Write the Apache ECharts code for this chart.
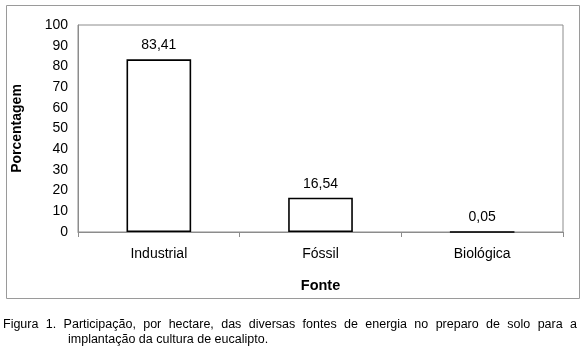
<!DOCTYPE html>
<html><head><meta charset="utf-8">
<script src="https://cdn.jsdelivr.net/npm/echarts@6/dist/echarts.min.js"></script>
<style>html,body{margin:0;padding:0;background:#fff}#c{width:580px;height:347px}</style>
</head><body><div id="c"></div>
<script>
const categories = ['Industrial', 'Fóssil', 'Biológica'];
const values = [83.41, 16.54, 0.05];
const yTicks = [0, 10, 20, 30, 40, 50, 60, 70, 80, 90, 100];
const yAxisName = 'Porcentagem';
const xAxisName = 'Fonte';
const caption1 = 'Figura 1. Participação, por hectare, das diversas fontes de energia no preparo de solo para a';
const caption2 = 'implantação da cultura de eucalipto.';

const font = 'Liberation Sans, Arial, sans-serif';
const capSize = 12.5;

// justified first caption line (words spread from x=3 to x=577)
const ctx = document.createElement('canvas').getContext('2d');
ctx.font = capSize + 'px ' + font;
const words = caption1.split(' ');
const widths = words.map(w => ctx.measureText(w).width);
const total = widths.reduce((a, b) => a + b, 0);
const capLeft = 3, capRight = 577;
const gap = (capRight - capLeft - total) / (words.length - 1);
const captionWords = [];
let cx = capLeft;
words.forEach((w, i) => {
  captionWords.push({type: 'text', x: cx, y: 318, style: {text: w, font: capSize + 'px ' + font, fill: '#000'}});
  cx += widths[i] + gap;
});

const chart = echarts.init(document.getElementById('c'), null, {renderer: 'canvas'});
chart.setOption({
  animation: false,
  backgroundColor: '#fff',
  grid: {left: 78, right: 17, top: 25, bottom: 115, show: true, borderColor: '#8c8c8c', borderWidth: 1},
  xAxis: {
    type: 'category', data: categories,
    name: xAxisName, nameLocation: 'middle', nameGap: 46,
    nameTextStyle: {fontFamily: font, fontSize: 14.5, fontWeight: 'bold', color: '#000'},
    axisLine: {lineStyle: {color: '#8c8c8c', width: 1}},
    axisTick: {show: true, length: 5, lineStyle: {color: '#8c8c8c'}},
    axisLabel: {fontFamily: font, fontSize: 14, color: '#000', margin: 15}
  },
  yAxis: {
    type: 'value', min: yTicks[0], max: yTicks[yTicks.length - 1], interval: 10,
    name: yAxisName, nameLocation: 'middle', nameGap: 54, nameRotate: 90,
    nameTextStyle: {fontFamily: font, fontSize: 14, fontWeight: 'bold', color: '#000'},
    axisLine: {show: true, lineStyle: {color: '#8c8c8c', width: 1}},
    axisTick: {show: false},
    splitLine: {show: false},
    axisLabel: {fontFamily: font, fontSize: 14, color: '#000', margin: 10}
  },
  series: [{
    type: 'bar', data: values, barWidth: '40%',
    itemStyle: {color: '#fff', borderColor: '#000', borderWidth: 1.6},
    label: {show: true, position: 'top', distance: 7, fontFamily: font, fontSize: 14, color: '#000',
      formatter: p => p.value.toFixed(2).replace('.', ',')}
  }],
  graphic: [
    {type: 'rect', left: 4, top: 3, shape: {width: 573, height: 293}, style: {fill: 'none', stroke: '#9a9a9a', lineWidth: 1}, silent: true, z: -1},
    ...captionWords,
    {type: 'text', x: 68, y: 333, style: {text: caption2, font: capSize + 'px ' + font, fill: '#000'}}
  ]
});
</script></body></html>
